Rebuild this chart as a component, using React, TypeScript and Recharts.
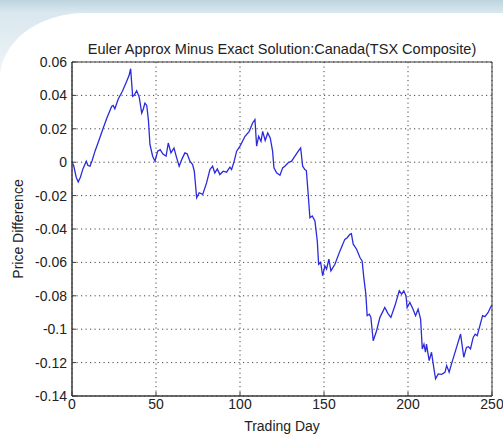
import { CartesianGrid, Line, LineChart, ReferenceArea, XAxis, YAxis } from "recharts";

// trading day / price difference
const days = [
  0, 1, 2.5, 3.7, 5, 6.5, 8.5, 9.5, 10.7, 12, 13.7, 16, 18.6, 21, 23.6, 24.5, 25.5, 27.6, 30, 32.5,
  34, 34.9, 36.1, 37, 38.5, 40, 41.5, 42.5, 43.4, 44.5, 45.5, 46.4, 48, 49.4, 51, 52.5, 54, 56, 57.3,
  58.9, 60.7, 62.3, 63.8, 65.5, 67.2, 68.5, 70.2, 71.8, 72.8, 74.2, 75.7, 77.8, 80.1, 82.1, 83.7, 85,
  86.5, 88, 90, 92, 94, 95, 96.5, 98, 100, 103, 105.5, 107.5, 108.9, 109.9, 111.1, 112.5, 113.5, 115,
  116.5, 118, 119.4, 120.2, 121.8, 123.8, 125.4, 126.7, 128.5, 130.7, 132.7, 134.7, 136.1, 137.3,
  138.6, 139.5, 140.6, 141.6, 143, 144.6, 146, 146.8, 148, 149.2, 150.5, 151.5, 152.9, 154.1, 156.5,
  159.5, 162.4, 163.8, 165.4, 166.3, 167.4, 169.4, 171.4, 172.7, 173.7, 174.9, 175.7, 177, 177.9,
  179.3, 181.3, 183.3, 186.2, 188, 189.8, 192.2, 194.8, 196.2, 197.5, 198.8, 199.5, 201.1, 203,
  204.5, 206, 207.5, 208.5, 209.5, 210.4, 211, 212.6, 214, 215, 216.4, 218, 220, 222, 223, 224.5,
  225.9, 228.9, 231.3, 233.2, 234.8, 236, 237.2, 238.8, 240, 241.2, 242.8, 244.4, 245.8, 247.7,
  249.1, 250,
];
const priceDiff = [
  0, -0.002, -0.009, -0.0118, -0.009, -0.004, 0.0006, -0.002, -0.0024, 0.001, 0.0066, 0.013, 0.0205,
  0.027, 0.0334, 0.034, 0.032, 0.038, 0.0425, 0.0483, 0.052, 0.056, 0.0394, 0.04, 0.0428, 0.039,
  0.0294, 0.032, 0.0354, 0.034, 0.025, 0.0106, 0.0036, 0.0006, 0.0066, 0.0075, 0.005, 0.0036, 0.0115,
  0.0056, 0.0085, 0.0026, -0.0024, 0.002, 0.0056, 0.005, 0.0006, -0.0014, -0.0054, -0.0213, -0.0183,
  -0.0193, -0.0124, -0.0044, -0.0024, -0.0064, -0.004, -0.0074, -0.0054, -0.006, -0.003, -0.0044,
  0.0005, 0.0066, 0.0096, 0.0155, 0.0185, 0.0235, 0.0255, 0.0096, 0.0155, 0.0125, 0.0185, 0.013,
  0.0175, 0.0145, 0.0066, -0.0034, -0.0064, -0.0078, -0.0034, -0.0024, -0.0005, 0.0006, 0.0036,
  0.0066, 0.0085, -0.0024, -0.0044, -0.005, -0.0193, -0.0333, -0.0322, -0.0352, -0.0472, -0.0611,
  -0.06, -0.068, -0.0621, -0.064, -0.0581, -0.0651, -0.0611, -0.0531, -0.0462, -0.0452, -0.0432,
  -0.0428, -0.0491, -0.0521, -0.0571, -0.0591, -0.0691, -0.079, -0.0919, -0.091, -0.0929, -0.1069,
  -0.1009, -0.0929, -0.087, -0.0905, -0.0929, -0.086, -0.077, -0.079, -0.077, -0.08, -0.087, -0.084,
  -0.088, -0.0919, -0.088, -0.0939, -0.1118, -0.109, -0.1138, -0.1089, -0.1188, -0.1138, -0.1208,
  -0.1297, -0.1268, -0.127, -0.1258, -0.1218, -0.1258, -0.1208, -0.1109, -0.1029, -0.1168, -0.1109,
  -0.1105, -0.1118, -0.1049, -0.103, -0.1039, -0.0979, -0.0919, -0.0925, -0.09, -0.087, -0.0854,
];

const xTicks = [0, 50, 100, 150, 200, 250];
const yTicks = [0.06, 0.04, 0.02, 0, -0.02, -0.04, -0.06, -0.08, -0.1, -0.12, -0.14];

const title = "Euler Approx Minus Exact Solution:Canada(TSX Composite)";
const xLabel = "Trading Day";
const yLabel = "Price Difference";

const data = days.map((d, i) => ({ day: d, diff: priceDiff[i] }));

const font = "'Liberation Sans', Arial, sans-serif";
const axisColor = "#3a3a3a";
const textStyle = { fontSize: 14, fill: "#222", fontFamily: font };

export default function App() {
  return (
    <div
      style={{
        position: "absolute",
        top: 0,
        left: 0,
        width: 503,
        height: 436,
        background: "linear-gradient(to bottom, #bcd4df 0px, #d9e7ee 12px, #eaf2f6 60px, #ffffff 120px)",
        overflow: "hidden",
      }}
    >
      <div
        style={{
          position: "absolute",
          top: 13,
          left: 0,
          width: 503,
          height: 423,
          background: "#fff",
          borderTopLeftRadius: "85px 65px",
        }}
      />
      <div style={{ position: "absolute", top: 0, left: 0 }}>
        <LineChart width={503} height={436} data={data} margin={{ top: 62, right: 11, bottom: 0, left: 0 }}>
          <CartesianGrid stroke="#444" strokeDasharray="1.2 3.3" horizontalValues={yTicks} verticalValues={xTicks} />
          <XAxis
            dataKey="day"
            type="number"
            domain={[0, 250]}
            ticks={xTicks}
            height={40}
            stroke={axisColor}
            tickSize={-4}
            tickMargin={7}
            tick={textStyle}
            label={{ value: xLabel, position: "insideBottom", offset: 5, style: textStyle }}
          />
          <XAxis
            xAxisId="top"
            orientation="top"
            dataKey="day"
            type="number"
            domain={[0, 250]}
            ticks={xTicks}
            height={0}
            stroke={axisColor}
            tickSize={-4}
            tick={false}
          />
          <YAxis
            type="number"
            domain={[-0.14, 0.06]}
            ticks={yTicks}
            width={72}
            stroke={axisColor}
            tickSize={-4}
            tickMargin={9}
            tick={textStyle}
            tickFormatter={(v: number) => String(Math.round(v * 100) / 100)}
            label={{ value: yLabel, angle: -90, position: "center", dx: -18, style: textStyle }}
          />
          <YAxis
            yAxisId="right"
            orientation="right"
            type="number"
            domain={[-0.14, 0.06]}
            ticks={yTicks}
            width={0}
            stroke={axisColor}
            tickSize={-4}
            tick={false}
          />
          <ReferenceArea
            x1={0}
            x2={250}
            y1={-0.14}
            y2={0.06}
            fill="none"
            stroke={axisColor}
            strokeWidth={1}
            label={{ value: title, position: "top", offset: 8, style: { ...textStyle, fontSize: 14.5 } }}
          />
          <Line
            type="linear"
            dataKey="diff"
            stroke="#2b2bdc"
            strokeWidth={1.3}
            dot={false}
            isAnimationActive={false}
          />
        </LineChart>
      </div>
    </div>
  );
}
